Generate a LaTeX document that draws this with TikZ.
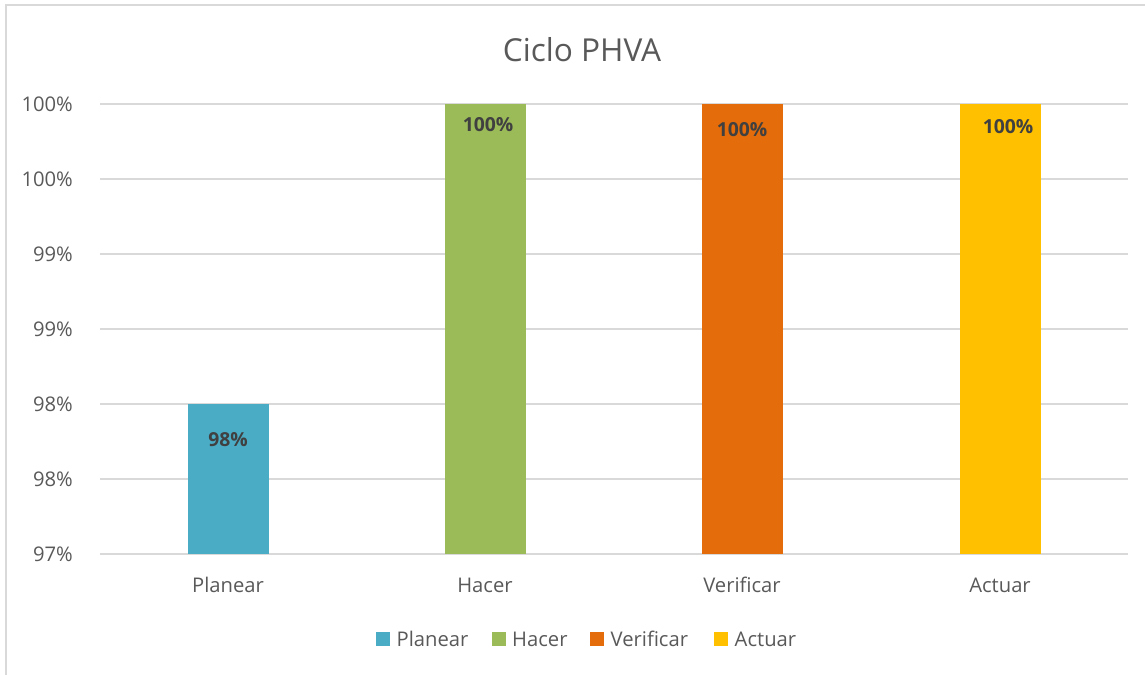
\documentclass[tikz,border=0pt]{standalone}
\usepackage{fontspec}
\setmainfont{Open Sans}
\usepackage{xcolor}
\usetikzlibrary{positioning}
\definecolor{txtgray}{HTML}{595959}
\definecolor{lblgray}{HTML}{404040}
\definecolor{gridgray}{HTML}{D9D9D9}
\definecolor{cplanear}{HTML}{4BACC6}
\definecolor{chacer}{HTML}{9BBB59}
\definecolor{cverificar}{HTML}{E46C0A}
\definecolor{cactuar}{HTML}{FFC000}

\begin{document}
\begin{tikzpicture}[x=0.02cm,y=-0.02cm,
	every node/.style={text=txtgray,font=\fontsize{11.5}{13}\selectfont},
	barlabel/.style={text=lblgray,font=\fontsize{11}{13}\selectfont\bfseries},
	keybox/.style={minimum size=0.28cm,inner sep=0pt},
	keytext/.style={inner sep=0pt,right=0.12cm of #1}]
		\useasboundingbox (0,0) rectangle (1145,675);
		\draw[gridgray,line width=1pt](6,675)--(6,5)--(1145,5);
		\node (title) at (582,50){\fontsize{18}{22}\selectfont Ciclo PHVA};
		\foreach \y/\t [count=\i] in {104/{100\%},179/{100\%},254/{99\%},329/{99\%},404/{98\%},479/{98\%},554/{97\%}}{
			\draw[gridgray,line width=0.9pt](100,\y)--(1128,\y);
			\node[anchor=east] (tick\i) at (79,\y){\t};
		}
		\fill[cplanear](188,404) rectangle (269,554);
		\fill[chacer](445,104) rectangle (526,554);
		\fill[cverificar](702,104) rectangle (783,554);
		\fill[cactuar](960,104) rectangle (1041,554);
		\node[barlabel] (lblP) at (228,440){98\%};
		\node[barlabel] (lblH) at (488,125){100\%};
		\node[barlabel] (lblV) at (742,130){100\%};
		\node[barlabel] (lblA) at (1008,127){100\%};
		\node (catP) at (228,585){Planear};
		\node (catH) at (485,585){Hacer};
		\node (catV) at (742,585){Verificar};
		\node (catA) at (1000,585){Actuar};
		% leyenda
		\node[keybox,fill=cplanear] (keyP) at (383,639){};
		\node[keytext=keyP] (legP){Planear};
		\node[keybox,fill=chacer] (keyH) at (498.5,639){};
		\node[keytext=keyH] (legH){Hacer};
		\node[keybox,fill=cverificar] (keyV) at (597,639){};
		\node[keytext=keyV] (legV){Verificar};
		\node[keybox,fill=cactuar] (keyA) at (721,639){};
		\node[keytext=keyA] (legA){Actuar};
\end{tikzpicture}
\end{document}
